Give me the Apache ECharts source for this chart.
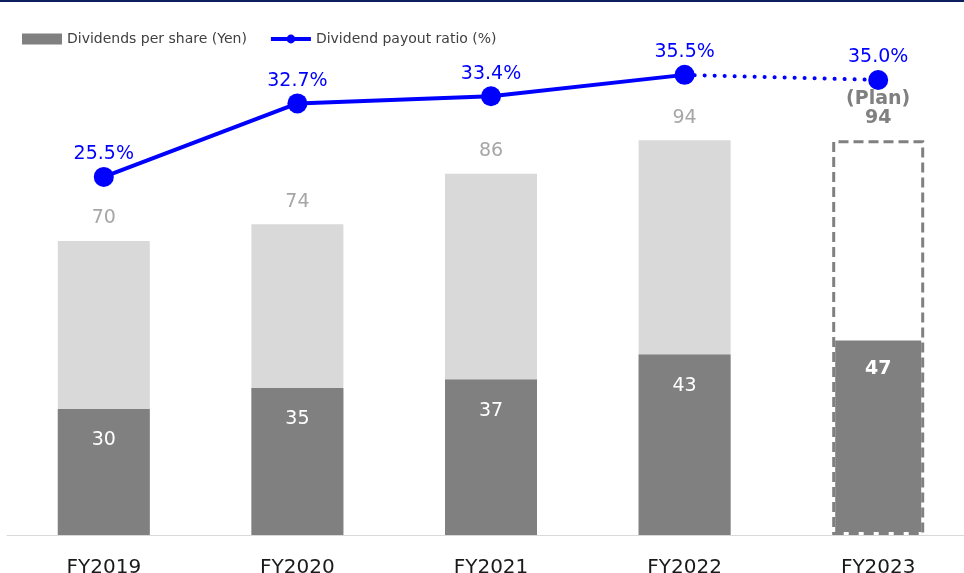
<!DOCTYPE html>
<html>
<head>
<meta charset="utf-8">
<script src="https://cdn.jsdelivr.net/npm/echarts@6/dist/echarts.min.js"></script>
<style>
  html, body { margin: 0; padding: 0; background: #fff; }
  #chart { width: 964px; height: 573px; }
</style>
</head>
<body>
<div id="chart"></div>
<script>
// data
const categories = ['FY2019', 'FY2020', 'FY2021', 'FY2022', 'FY2023']
const totalDividends = [70, 74, 86, 94, 94]
const dividendsPerShare = [30, 35, 37, 43, 47]
const payoutActual = [25.5, 32.7, 33.4, 35.5, null]
const payoutPlan = [null, null, null, 35.5, 35.0]
const planIndex = 4

const font = 'DejaVu Sans'
const chart = echarts.init(document.getElementById('chart'))

// light grey totals, the plan year is drawn as an outline only
const totalData = totalDividends.map((v, i) => {
  if (i !== planIndex) return v
  return {
    value: v,
    itemStyle: { color: 'rgba(0,0,0,0)' },
    label: {
      formatter: '(Plan)\n{c}',
      color: '#808080',
      fontWeight: 'bold',
      lineHeight: 19
    }
  }
})
const outlineData = totalDividends.map((v, i) => (i === planIndex ? v : null))
const dpsData = dividendsPerShare.map((v, i) =>
  i === planIndex
    ? { value: v, label: { fontWeight: 'bold' }, itemStyle: { borderColor: '#ffffff', borderWidth: 3 } }
    : v
)
const planLineData = payoutPlan.map((v, i) =>
  i === planIndex ? v : { value: v, symbol: 'none', label: { show: false } }
)

const option = {
  animation: false,
  graphic: [
    { type: 'rect', left: 0, top: 0, shape: { width: 964, height: 2 }, style: { fill: '#0c1e5b' } }
  ],
  legend: {
    left: 17,
    top: 27,
    itemGap: 22,
    itemWidth: 40,
    itemHeight: 11,
    textStyle: { fontFamily: font, fontSize: 14, color: '#404040' },
    data: [
      { name: 'Dividends per share (Yen)', icon: 'rect' },
      { name: 'Dividend payout ratio (%)', lineStyle: { width: 4 } }
    ]
  },
  grid: { left: 7, right: -11, top: 31, bottom: 38, containLabel: false, outerBoundsMode: 'none' },
  xAxis: {
    type: 'category',
    data: categories,
    axisLine: { lineStyle: { color: '#d9d9d9', width: 1 } },
    axisTick: { show: false },
    axisLabel: { fontFamily: font, fontSize: 20, color: '#1a1a1a', margin: 23 }
  },
  yAxis: [
    { type: 'value', min: 0, max: 120, show: false },
    { type: 'value', min: -9.6, max: 39.8, show: false }
  ],
  series: [
    {
      name: 'Total',
      type: 'bar',
      barWidth: 92,
      barGap: '-100%',
      itemStyle: { color: '#d9d9d9' },
      label: {
        show: true,
        position: 'top',
        distance: 13,
        fontFamily: font,
        fontSize: 19,
        color: '#a6a6a6'
      },
      data: totalData
    },
    {
      name: 'Dividends per share (Yen)',
      type: 'bar',
      barWidth: 92,
      barGap: '-100%',
      itemStyle: { color: '#808080' },
      label: {
        show: true,
        position: 'insideTop',
        distance: 22,
        fontFamily: font,
        fontSize: 19,
        color: '#ffffff'
      },
      data: dpsData
    },
    {
      name: 'Plan outline',
      type: 'bar',
      barWidth: 92,
      barGap: '-100%',
      z: 3,
      silent: true,
      itemStyle: {
        color: 'rgba(0,0,0,0)',
        borderColor: '#808080',
        borderWidth: 3,
        borderType: [10, 5]
      },
      data: outlineData
    },
    {
      name: 'Dividend payout ratio (%)',
      type: 'line',
      yAxisIndex: 1,
      z: 5,
      symbol: 'circle',
      symbolSize: 20,
      itemStyle: { color: '#0000ff' },
      lineStyle: { color: '#0000ff', width: 4 },
      label: {
        show: true,
        position: 'top',
        distance: 3,
        fontFamily: font,
        fontSize: 19,
        color: '#0000ff',
        formatter: p => p.value.toFixed(1) + '%'
      },
      data: payoutActual
    },
    {
      name: 'Payout plan',
      type: 'line',
      yAxisIndex: 1,
      z: 4,
      symbol: 'circle',
      symbolSize: 20,
      itemStyle: { color: '#0000ff' },
      lineStyle: { color: '#0000ff', width: 4, type: [0.1, 9.9], cap: 'round' },
      label: {
        show: true,
        position: 'top',
        distance: 3,
        fontFamily: font,
        fontSize: 19,
        color: '#0000ff',
        formatter: p => p.value.toFixed(1) + '%'
      },
      data: planLineData
    }
  ]
}
chart.setOption(option)
</script>
</body>
</html>
